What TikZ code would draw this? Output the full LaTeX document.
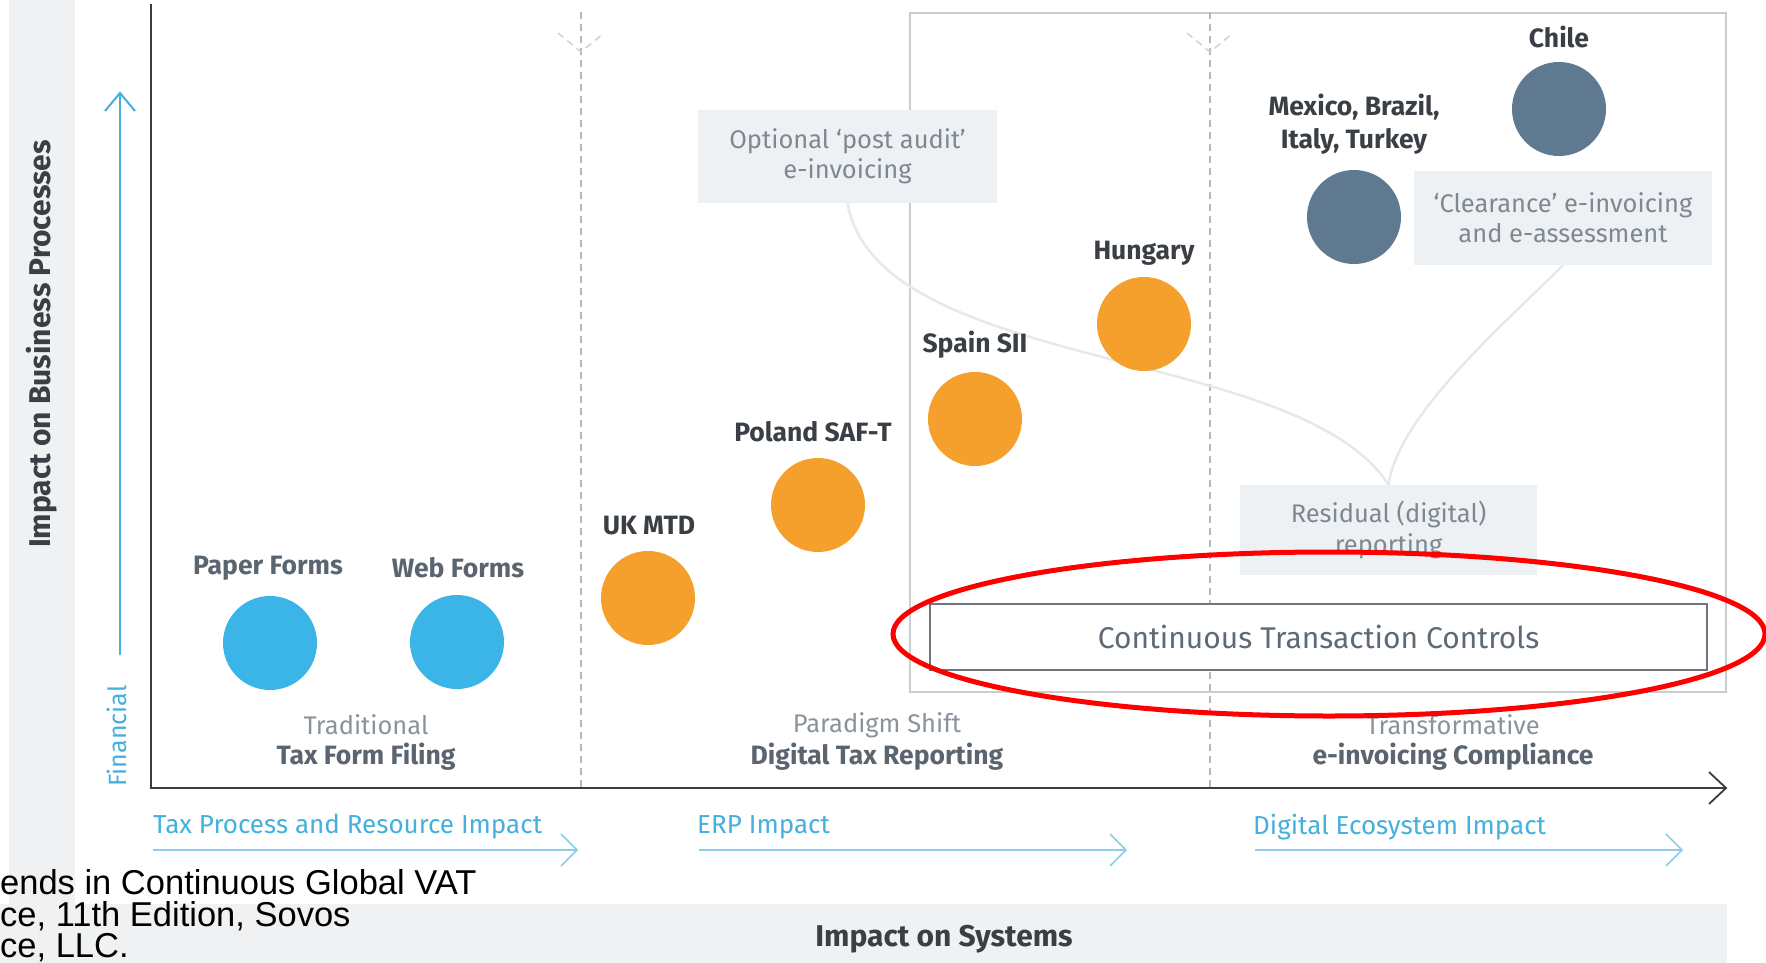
\documentclass[tikz,border=0pt]{standalone}
\usepackage{fontspec}
\setmainfont{Fira Sans}
\newfontfamily\arialfont{Liberation Sans}
\definecolor{bluec}{HTML}{3BB4E7}
\definecolor{orangec}{HTML}{F5A02C}
\definecolor{slatec}{HTML}{5F7A90}
\definecolor{boxfill}{HTML}{EEF1F4}
\definecolor{boxtext}{HTML}{7E8893}
\definecolor{labc}{HTML}{3A3F45}
\definecolor{captl}{HTML}{8A939C}
\definecolor{captd}{HTML}{5B6570}
\definecolor{axisblue}{HTML}{45B0DD}
\definecolor{arrowblue}{HTML}{8CCDE8}
\definecolor{curvec}{HTML}{E6E9EC}
\definecolor{dashc}{HTML}{B8B8B8}
\definecolor{framec}{HTML}{C9CCD0}
\definecolor{ctcline}{HTML}{6E7780}
\definecolor{ctctext}{HTML}{5E6A76}
\definecolor{bandc}{HTML}{EFF1F3}
\definecolor{axisc}{HTML}{3C3C3C}
\begin{document}
\begin{tikzpicture}[x=1pt,y=-1pt,
  bub/.style={circle,minimum size=94pt,inner sep=0pt},
  lab/.style={font=\fontsize{26.5}{33}\selectfont\bfseries,text=labc,inner sep=0pt,align=center},
  gbox/.style={fill=boxfill,text=boxtext,align=center,inner sep=0pt,font=\fontsize{25.5}{30}\selectfont},
  capl/.style={font=\fontsize{25.5}{30}\selectfont,text=captl,inner sep=0pt},
  capd/.style={font=\fontsize{26.5}{30}\selectfont\bfseries,text=captd,inner sep=0pt},
  imp/.style={font=\fontsize{26}{30}\selectfont,text=axisblue,inner sep=0pt,anchor=west},
  barrow/.style={draw=arrowblue,line width=2.5pt},
  curve/.style={draw=curvec,line width=2.5pt},
  dline/.style={draw=dashc,line width=1.3pt,dash pattern=on 7pt off 5pt},
  cite/.style={font=\arialfont\fontsize{34.5}{36}\selectfont,text=black,inner sep=0pt,anchor=west}
]
\useasboundingbox (0,0) rectangle (1766,963);
\clip (0,0) rectangle (1766,963);
\fill[white] (0,0) rectangle (1766,963);

% bands
\fill[bandc] (9,0) rectangle (75,904);
\fill[bandc] (0,904) rectangle (1727,963);

% frame of CTC area
\draw[framec,line width=1.5pt] (910,13) rectangle (1726,692);

% dashed separators
\coordinate (d1t) at (581,12); \coordinate (d1b) at (581,788);
\coordinate (d2t) at (1210,12); \coordinate (d2b) at (1210,788);
\draw[dline] (d1t) -- (d1b);
\draw[dline] (d2t) -- (d2b);
\coordinate (c1l) at (558,33); \coordinate (c1m) at (581,52); \coordinate (c1r) at (604,33);
\coordinate (c2l) at (1187,33); \coordinate (c2m) at (1210,52); \coordinate (c2r) at (1233,33);
\draw[dline,draw=dashc!70] (c1l) -- (c1m) -- (c1r);
\draw[dline,draw=dashc!70] (c2l) -- (c2m) -- (c2r);

% axes
\coordinate (o) at (151,788);
\coordinate (ytop) at (151,4);
\coordinate (xend) at (1726,788);
\draw[axisc,line width=2pt] (ytop) -- (o) -- (xend);
\draw[axisc,line width=1.8pt] (1709,772) -- (xend) -- (1709,804);

% vertical blue arrow
\coordinate (vb) at (120,655); \coordinate (vt) at (120,93);
\draw[axisblue,line width=2pt] (vb) -- (vt);
\draw[axisblue,line width=2pt] (105,111) -- (vt) -- (135,111);
\node[font=\fontsize{25}{28}\selectfont,text=axisblue,rotate=90,inner sep=0pt] (fin) at (117,736) {Financial};
\node[font=\fontsize{30}{34}\selectfont\bfseries,text=labc,rotate=90,inner sep=0pt] (ibp) at (42,344) {Impact on Business Processes};

% bottom impact arrows
\node[imp] (tpi) at (153,827) {Tax Process and Resource Impact};
\node[imp] (erp) at (697,827) {ERP Impact};
\node[imp] (dei) at (1253,827) {Digital Ecosystem Impact};
\coordinate (a1s) at (153,850); \coordinate (a1e) at (577,850);
\coordinate (a2s) at (699,850); \coordinate (a2e) at (1126,850);
\coordinate (a3s) at (1255,850); \coordinate (a3e) at (1682,850);
\draw[barrow] (a1s) -- (a1e); \draw[barrow,line width=1.6pt] (561,834) -- (a1e) -- (561,866);
\draw[barrow] (a2s) -- (a2e); \draw[barrow,line width=1.6pt] (1110,834) -- (a2e) -- (1110,866);
\draw[barrow] (a3s) -- (a3e); \draw[barrow,line width=1.6pt] (1666,834) -- (a3e) -- (1666,866);

\node[font=\fontsize{30}{34}\selectfont\bfseries,text=labc,inner sep=0pt] (ios) at (944,939) {Impact on Systems};

% grey boxes
\node[gbox,minimum width=299pt,minimum height=93pt] (opt) at (847.5,156.5) {Optional ‘post audit’\\e-invoicing};
\node[gbox,minimum width=298pt,minimum height=94pt] (clr) at (1563,218) {‘Clearance’ e-invoicing\\and e-assessment};
\node[gbox,minimum width=297pt,minimum height=90pt,font=\fontsize{25.5}{31}\selectfont] (res) at (1388.5,530) {Residual (digital)\\reporting};

% connecting curves
\draw[curve] (opt.south) .. controls +(30,170) and +(-90,-140) .. (res.north);
\draw[curve] (res.north) .. controls +(10,-70) and +(-60,60) .. (clr.south);

% CTC box
\node[draw=ctcline,fill=white,line width=1.3pt,minimum width=777pt,minimum height=66pt,inner sep=0pt,text=ctctext,font=\fontsize{30}{34}\selectfont] (ctc) at (1318.5,637) {Continuous Transaction Controls};

% phase captions
\node[capl] (t1) at (366,725) {Traditional};
\node[capd] (t2) at (366,757) {Tax Form Filing};
\node[capl] (p1) at (877,725) {Paradigm Shift};
\node[capd] (p2) at (877,757) {Digital Tax Reporting};
\node[capl] (e1) at (1453,725) {Transformative};
\node[capd] (e2) at (1453,757) {e-invoicing Compliance};

% bubbles
\node[bub,fill=bluec] (paper) at (270,643) {};
\node[lab,text=captd] (paperl) at (268,568) {Paper Forms};
\node[bub,fill=bluec] (web) at (457,642) {};
\node[lab,text=captd] (webl) at (458,568) {Web Forms};
\node[bub,fill=orangec] (uk) at (648,598) {};
\node[lab] (ukl) at (649,526) {UK MTD};
\node[bub,fill=orangec] (pl) at (818,505) {};
\node[lab] (pll) at (813,432) {Poland SAF-T};
\node[bub,fill=orangec] (es) at (975,419) {};
\node[lab] (esl) at (975,345) {Spain SII};
\node[bub,fill=orangec] (hu) at (1144,324) {};
\node[lab] (hul) at (1144,253) {Hungary};
\node[bub,fill=slatec] (mx) at (1354,217) {};
\node[lab] (mxl) at (1354,124) {Mexico, Brazil,\\Italy, Turkey};
\node[bub,fill=slatec] (cl) at (1559,109) {};
\node[lab] (cll) at (1559,37) {Chile};

% citation
\node[cite] (ci1) at (0,882) {ends in Continuous Global VAT};
\node[cite] (ci2) at (0,916) {ce, 11th Edition, Sovos};
\node[cite] (ci3) at (0,948) {ce, LLC.};

% red highlight ellipse
\draw[red,line width=5pt] (1329,634) ellipse [x radius=436pt, y radius=82pt];
\end{tikzpicture}
\end{document}
